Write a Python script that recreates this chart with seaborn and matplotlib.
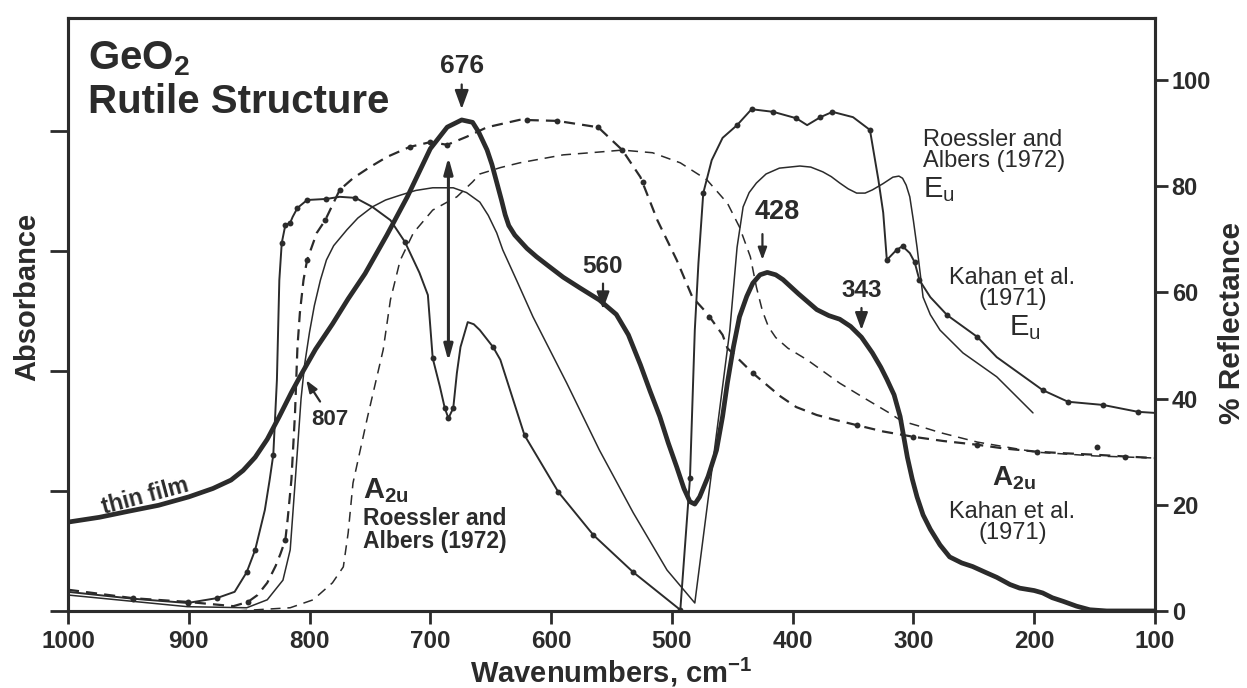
import matplotlib
matplotlib.use("Agg")
import matplotlib.pyplot as plt
import seaborn as sns

# ---- data (wavenumber in cm-1, reflectance in %, absorbance in arb. units)

# thin film absorbance (left axis)
film_wn = [1000, 974, 950, 925, 900, 880, 865, 855, 845, 835, 825, 815, 808, 795, 781, 768,
           754, 736, 719, 700, 686, 674, 665, 660, 653, 649, 645, 641, 638, 635, 630, 620,
           612, 603, 590, 576, 560, 546, 536, 526, 518, 510, 503, 496, 490, 485, 481, 477,
           470, 463, 458, 454, 449, 444, 438, 433, 427, 421, 414, 408, 395, 380, 370, 361,
           352, 343, 334, 327, 322, 316, 311, 305, 301, 297, 292, 286, 278, 270, 260, 251,
           240, 231, 220, 212, 200, 193, 185, 176, 165, 154, 140, 121, 100]
film_abs = [0.74, 0.78, 0.83, 0.88, 0.95, 1.02, 1.09, 1.17, 1.28, 1.43, 1.62, 1.82, 1.95,
            2.18, 2.39, 2.60, 2.81, 3.13, 3.45, 3.85, 4.03, 4.09, 4.07, 3.99, 3.84, 3.72,
            3.57, 3.42, 3.30, 3.21, 3.13, 3.02, 2.95, 2.88, 2.78, 2.69, 2.59, 2.47, 2.30,
            2.05, 1.83, 1.62, 1.40, 1.20, 1.02, 0.91, 0.89, 0.95, 1.12, 1.34, 1.62, 1.90,
            2.20, 2.45, 2.62, 2.73, 2.80, 2.82, 2.80, 2.76, 2.64, 2.51, 2.46, 2.43, 2.37,
            2.28, 2.15, 2.03, 1.93, 1.80, 1.62, 1.28, 1.10, 0.95, 0.80, 0.68, 0.55, 0.45,
            0.40, 0.37, 0.32, 0.28, 0.22, 0.19, 0.17, 0.15, 0.11, 0.08, 0.04, 0.01, 0.0,
            0.0, 0.0]

# Kahan et al. (1971) A2u reflectance, dashed with data points
ka2u_wn = [1000, 946, 901, 863, 851, 843, 835, 828, 824, 820, 818, 815, 812, 810, 808, 805,
           802, 794, 787, 783, 775, 764, 750, 736, 717, 700, 686, 670, 653, 626, 595, 561,
           541, 526, 512, 496, 483, 471, 458, 454, 433, 420, 410, 397, 380, 365, 347, 325,
           300, 275, 247, 225, 198, 175, 148, 125, 100]
ka2u_r = [4.0, 2.4, 1.7, 0.9, 1.7, 3.0, 5.3, 8.5, 10.8, 13.4, 17.5, 24.7, 37.3, 49.7, 56.1,
          62.3, 66.1, 71.2, 73.6, 75.5, 79.3, 81.5, 83.6, 85.5, 87.4, 88.3, 87.8, 89.3, 91.1,
          92.5, 92.3, 91.1, 86.8, 81.7, 73.6, 66.1, 59.1, 56.1, 52.0, 49.5, 44.8, 42.3, 40.4,
          38.4, 36.9, 36.0, 35.0, 33.8, 32.8, 32.0, 31.3, 30.6, 30.0, 29.7, 29.4, 29.1, 28.8]
ka2u_pts_wn = [946, 901, 851, 820, 802, 787, 775, 717, 700, 686, 620, 595, 561, 541, 524, 469,
               433, 347, 300, 247, 198, 148, 125]
ka2u_pts_r = [2.4, 1.7, 1.7, 13.4, 66.1, 73.6, 79.3, 87.4, 88.3, 87.8, 92.4, 92.3, 91.1, 86.8,
              80.8, 55.4, 44.8, 35.0, 32.8, 31.3, 30.0, 30.9, 29.0]

# Roessler and Albers (1972) A2u reflectance, thin dashed
ra2u_wn = [860, 816, 797, 781, 772, 768, 764, 752, 739, 733, 725, 714, 698, 678, 665, 659, 642,
           626, 590, 562, 541, 516, 493, 471, 454, 444, 435, 430, 425, 420, 414, 404, 388, 361,
           340, 320, 310, 295, 278, 247, 198, 150, 100]
ra2u_r = [0.0, 0.6, 2.1, 5.3, 8.3, 14.7, 24.1, 36.5, 49.2, 58.6, 66.0, 71.2, 75.5, 78.0, 80.8,
          82.3, 83.5, 84.4, 85.9, 86.4, 86.8, 86.3, 84.4, 81.2, 76.8, 72.3, 66.7, 61.0, 56.5,
          53.5, 51.5, 49.5, 47.3, 42.9, 40.0, 37.3, 35.8, 34.8, 33.6, 31.8, 29.9, 29.2, 28.8]

# Kahan et al. (1971) Eu reflectance, solid with data points
keu_wn = [1000, 946, 901, 877, 862, 852, 845, 837, 833, 830, 827, 825, 823, 820, 816, 814, 810,
          802, 786, 775, 762, 748, 733, 721, 709, 702, 698, 692, 688, 685, 681, 678, 675, 669,
          664, 659, 648, 642, 622, 594, 565, 532, 493, 485, 481, 478, 474, 467, 458, 446, 434,
          416, 397, 388, 377, 367, 350, 336, 329, 325, 322, 314, 309, 303, 299, 295, 286, 272,
          247, 231, 193, 172, 143, 114, 100]
keu_r = [3.6, 2.3, 1.5, 2.4, 3.6, 7.3, 11.5, 19.0, 24.7, 29.4, 43.5, 62.3, 69.3, 72.7, 73.1,
         74.2, 75.9, 77.4, 77.6, 78.0, 77.8, 76.1, 73.6, 69.5, 63.7, 59.5, 47.6, 42.2, 38.2, 36.3,
         38.2, 44.8, 49.7, 54.4, 54.0, 52.9, 49.7, 47.3, 33.1, 22.4, 14.3, 7.3, 0.2, 25.0, 52.9,
         65.5, 78.7, 84.9, 89.1, 91.5, 94.5, 94.0, 92.8, 91.5, 93.0, 94.0, 93.0, 90.6, 81.2,
         75.0, 66.1, 68.0, 68.7, 67.4, 65.7, 62.3, 59.1, 55.7, 51.6, 47.8, 41.6, 39.4, 38.8,
         37.5, 37.3]
keu_pts_wn = [946, 901, 877, 852, 845, 830, 823, 820, 816, 810, 802, 786, 762, 721, 698, 688,
              685, 681, 648, 622, 594, 565, 532, 493, 485, 474, 446, 434, 416, 397, 377, 367,
              336, 322, 314, 309, 299, 295, 272, 247, 193, 172, 143, 114]
keu_pts_r = [2.3, 1.5, 2.4, 7.3, 11.5, 29.4, 69.3, 72.7, 73.1, 75.9, 77.4, 77.6, 77.8, 69.5,
             47.6, 38.2, 36.3, 38.2, 49.7, 33.1, 22.4, 14.3, 7.3, 0.2, 25.0, 78.7, 91.5, 94.5,
             94.0, 92.8, 93.0, 94.0, 90.6, 66.1, 68.0, 68.7, 65.7, 62.3, 55.7, 51.6, 41.6, 39.4,
             38.8, 37.5]

# Roessler and Albers (1972) Eu reflectance, thin solid
reu_wn = [1000, 901, 852, 835, 822, 816, 812, 810, 807, 804, 800, 796, 791, 786, 780, 769, 760,
          748, 737, 725, 712, 698, 681, 670, 659, 652, 645, 640, 628, 615, 587, 560, 532, 504,
          481, 452, 446, 441, 436, 430, 422, 411, 394, 385, 375, 368, 361, 354, 347, 340, 334,
          325, 317, 312, 309, 306, 303, 300, 297, 292, 286, 278, 259, 231, 201]
reu_r = [3.0, 0.8, 0.6, 2.1, 5.8, 11.5, 24.0, 30.3, 40.0, 46.5, 52.5, 57.5, 62.3, 66.1, 68.8,
         71.8, 74.0, 76.1, 77.4, 78.3, 79.2, 79.7, 79.7, 78.8, 77.0, 74.5, 71.2, 68.0, 62.0,
         55.4, 42.9, 30.3, 18.5, 7.7, 1.5, 52.9, 68.5, 76.1, 78.8, 80.6, 82.3, 83.4, 83.8, 83.6,
         82.7, 81.8, 80.6, 79.5, 78.7, 78.7, 79.3, 80.5, 81.7, 81.9, 81.5, 80.2, 78.0, 73.5,
         68.5, 59.1, 55.8, 52.9, 48.6, 44.1, 37.3]

x_ticks = [1000, 900, 800, 700, 600, 500, 400, 300, 200, 100]
refl_ticks = [0, 20, 40, 60, 80, 100]
abs_ticks = [0, 1, 2, 3, 4]

# ---- style
sns.set_theme(style="ticks")
plt.rcParams['font.family'] = ['Liberation Sans', 'DejaVu Sans']
plt.rcParams['mathtext.fontset'] = 'custom'
plt.rcParams['mathtext.rm'] = 'Liberation Sans'
plt.rcParams['mathtext.bf'] = 'Liberation Sans:bold'
plt.rcParams['mathtext.it'] = 'Liberation Sans:italic'
ink = '#2b2b2b'

fig = plt.figure(figsize=(12.47, 6.88), dpi=100)
ax = fig.add_axes([0.0545, 0.112, 0.8717, 0.862])
ax2 = ax.twinx()

# curves
sns.lineplot(x=film_wn, y=film_abs, ax=ax, color=ink, lw=3.4, sort=False, estimator=None)
sns.lineplot(x=ka2u_wn, y=ka2u_r, ax=ax2, color=ink, lw=1.6, sort=False, estimator=None,
             linestyle=(0, (5, 3.2)))
sns.lineplot(x=ra2u_wn, y=ra2u_r, ax=ax2, color=ink, lw=1.1, sort=False, estimator=None,
             linestyle=(0, (6.5, 4.5)))
sns.lineplot(x=keu_wn, y=keu_r, ax=ax2, color=ink, lw=1.4, sort=False, estimator=None)
sns.lineplot(x=reu_wn, y=reu_r, ax=ax2, color=ink, lw=1.1, sort=False, estimator=None)
sns.scatterplot(x=ka2u_pts_wn, y=ka2u_pts_r, ax=ax2, color=ink, s=18, linewidth=0, zorder=4)
sns.scatterplot(x=keu_pts_wn, y=keu_pts_r, ax=ax2, color=ink, s=18, linewidth=0, zorder=4)

# axes
ax.set_xlim(1000, 100)
ax.set_ylim(0, 4.94)
ax2.set_ylim(0, 111.7)
ax.set_xticks(x_ticks)
ax.set_yticks(abs_ticks)
ax.set_yticklabels([])
ax2.set_yticks(refl_ticks)
for a in (ax, ax2):
    for sp in a.spines.values():
        sp.set_linewidth(2.2)
        sp.set_color(ink)
ax.tick_params(axis='x', direction='out', length=9, width=2, labelsize=17.5, pad=5,
               colors=ink)
ax.tick_params(axis='y', direction='out', length=13, width=2, colors=ink)
ax2.tick_params(axis='y', direction='out', length=9, width=2, labelsize=17, pad=3,
                colors=ink)
plt.setp(ax.get_xticklabels(), fontweight='bold')
plt.setp(ax2.get_yticklabels(), fontweight='bold')

ax.set_ylabel('Absorbance', fontsize=21, fontweight='bold', color=ink)
ax.yaxis.set_label_coords(-0.025, 0.529)
ax2.set_ylabel('% Reflectance', fontsize=21.5, fontweight='bold', color=ink)
ax2.yaxis.set_label_coords(1.058, 0.486)
ax.set_xlabel(r'Wavenumbers, cm$^\mathbf{-1}$', fontsize=21, fontweight='bold', color=ink)
ax.xaxis.set_label_coords(0.5, -0.076)

# titles and annotations
ax.text(0.018, 0.964, r'GeO$_\mathbf{2}$', transform=ax.transAxes, fontsize=29,
        fontweight='bold', color=ink, va='top', ha='left')
ax.text(0.018, 0.890, 'Rutile Structure', transform=ax.transAxes, fontsize=29,
        fontweight='bold', color=ink, va='top', ha='left')

arrow = dict(arrowstyle='-|>,head_width=0.22,head_length=0.6', color=ink, lw=1.6)
ax2.annotate('676', xy=(674, 94.0), xytext=(674, 100.3), ha='center', va='bottom',
             fontsize=19, fontweight='bold', color=ink, arrowprops=arrow)
ax2.annotate('560', xy=(557, 56.3), xytext=(557, 62.8), ha='center', va='bottom',
             fontsize=17.5, fontweight='bold', color=ink, arrowprops=arrow)
ax2.annotate('', xy=(425, 65.6), xytext=(425, 71.5), arrowprops=arrow)
ax2.text(413, 72.6, '428', ha='center', va='bottom', fontsize=19.5, fontweight='bold',
         color=ink)
ax2.annotate('343', xy=(343, 52.4), xytext=(343, 58.2), ha='center', va='bottom',
             fontsize=17.5, fontweight='bold', color=ink, arrowprops=arrow)
ax2.annotate('', xy=(804, 43.9), xytext=(790, 39.0), arrowprops=arrow)
ax2.text(783, 36.0, '807', ha='center', va='center', fontsize=16, fontweight='bold', color=ink)
ax2.annotate('', xy=(685, 86.0), xytext=(685, 46.5),
             arrowprops=dict(arrowstyle='<|-|>,head_width=0.22,head_length=0.8',
                             color=ink, lw=2.2))

ax2.text(936, 21.7, 'thin film', rotation=15, rotation_mode='anchor', ha='center',
         va='center', fontsize=16.5, fontweight='bold', color=ink)

ax2.text(756, 22.6, r'A$_\mathbf{2u}$', ha='left', va='center', fontsize=21,
         fontweight='bold', color=ink)
ax2.text(756, 19.6, 'Roessler and\nAlbers (1972)', ha='left', va='top', fontsize=16.5,
         fontweight='bold', color=ink, linespacing=1.0)

ax2.text(292, 90.8, 'Roessler and\nAlbers (1972)', ha='left', va='top', fontsize=17,
         color=ink, linespacing=0.95)
ax2.text(292, 79.3, r'E$_\mathrm{u}$', ha='left', va='center', fontsize=21, color=ink)

ax2.text(218, 64.8, 'Kahan et al.\n(1971)', ha='center', va='top', fontsize=17,
         color=ink, linespacing=0.95)
ax2.text(221, 53.3, r'E$_\mathrm{u}$', ha='left', va='center', fontsize=21, color=ink)

ax2.text(235, 25.0, r'A$_\mathbf{2u}$', ha='left', va='center', fontsize=20,
         fontweight='bold', color=ink)
ax2.text(218, 20.8, 'Kahan et al.\n(1971)', ha='center', va='top', fontsize=17,
         color=ink, linespacing=0.95)

fig.savefig('out.png', dpi=100, facecolor='white')
